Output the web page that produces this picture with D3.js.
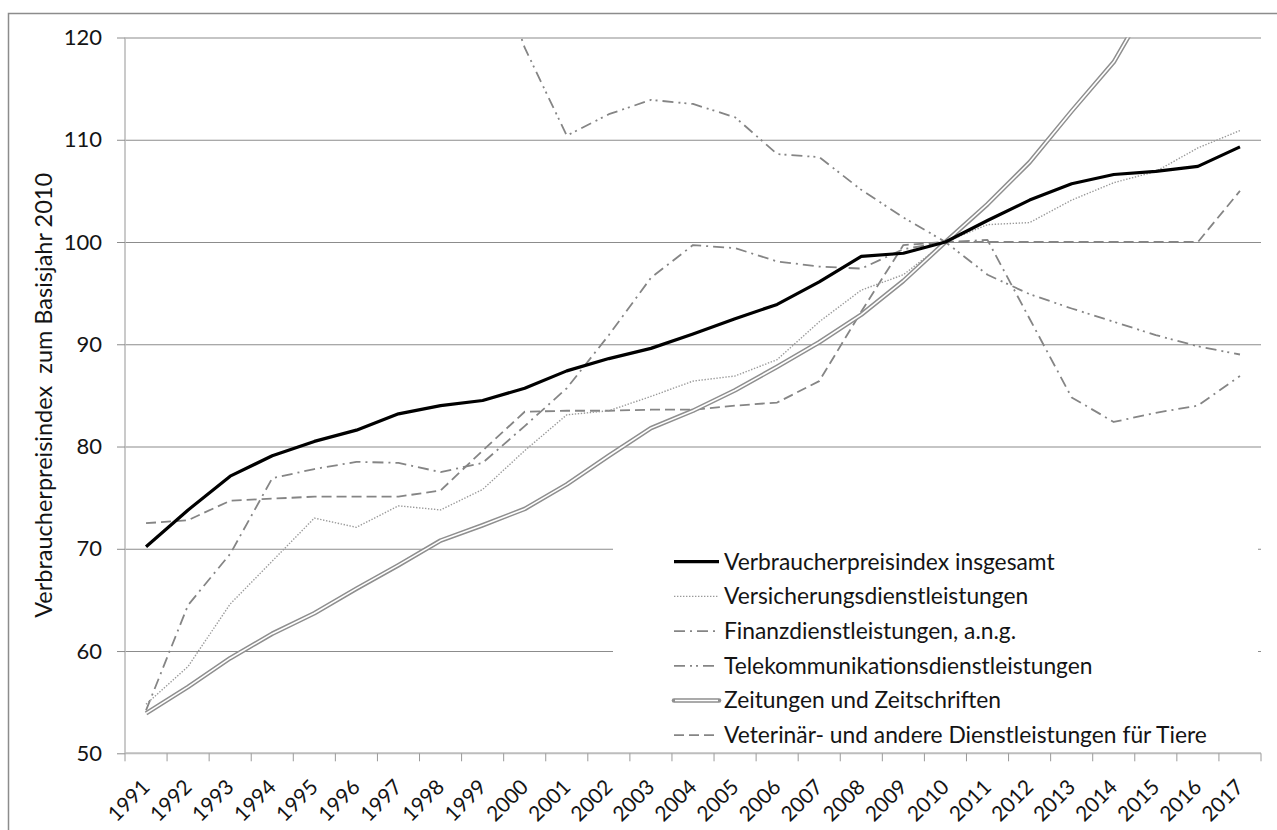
<!DOCTYPE html>
<html>
<head>
<meta charset="utf-8">
<script src="https://cdn.jsdelivr.net/npm/d3@7/dist/d3.min.js"></script>
<style>
  html, body { margin: 0; padding: 0; background: #fff; }
  svg { display: block; font-family: "Lato", "Open Sans", sans-serif; }
</style>
</head>
<body>
<svg id="chart" width="1277" height="830"></svg>
<script>
// Jahre (Kategorien der x-Achse)
const years = ["1991","1992","1993","1994","1995","1996","1997","1998","1999","2000",
  "2001","2002","2003","2004","2005","2006","2007","2008","2009","2010",
  "2011","2012","2013","2014","2015","2016","2017"];

// Indexwerte, Basisjahr 2010 = 100
const verbraucherpreisindex = [70.2,73.8,77.1,79.1,80.5,81.6,83.2,84.0,84.5,85.7,
  87.4,88.6,89.6,91.0,92.5,93.9,96.1,98.6,98.9,100.0,
  102.1,104.1,105.7,106.6,106.9,107.4,109.3];
const versicherung = [54.8,58.5,64.6,68.8,73.0,72.1,74.2,73.8,75.8,79.6,
  83.1,83.5,84.9,86.4,86.9,88.5,92.2,95.3,96.8,100.0,
  101.7,101.9,104.1,105.8,106.9,109.2,110.9];
const finanz = [54.2,64.5,69.5,76.9,77.8,78.5,78.4,77.5,78.4,82.0,
  85.7,90.9,96.5,99.7,99.4,98.1,97.6,97.4,99.3,100.0,
  100.2,92.5,84.8,82.4,83.3,84.0,86.9];
const telekom = [174,175,176,176,176,172,170,156,131,119.0,
  110.4,112.5,113.9,113.5,112.2,108.6,108.3,105.1,102.4,100.0,
  96.8,94.9,93.5,92.2,90.9,89.8,89.0];
const zeitungen = [53.9,56.5,59.3,61.7,63.7,66.1,68.4,70.8,72.3,73.9,
  76.3,79.1,81.8,83.5,85.5,87.8,90.2,92.9,96.2,100.0,
  103.7,107.8,112.8,117.6,124.7,131.0,137.0];
const veterinaer = [72.5,72.8,74.7,74.9,75.1,75.1,75.1,75.7,79.6,83.4,
  83.5,83.5,83.6,83.6,84.0,84.3,86.4,93.2,99.7,100.0,
  100.0,100.0,100.0,100.0,100.0,100.0,105.0];

// Beschriftungen
const seriesNames = [
  "Verbraucherpreisindex insgesamt",
  "Versicherungsdienstleistungen",
  "Finanzdienstleistungen, a.n.g.",
  "Telekommunikationsdienstleistungen",
  "Zeitungen und Zeitschriften",
  "Veterinär- und andere Dienstleistungen für Tiere"
];
const yTicks = [50,60,70,80,90,100,110,120];
const yTitle = "Verbraucherpreisindex  zum Basisjahr 2010";

// Linienstile je Reihe
const styles = [
  { stroke: "#000", width: 3.2, dash: null },
  { stroke: "#9a9a9a", width: 1.4, dash: "1.4 1.6" },
  { stroke: "#858585", width: 1.8, dash: "11 5 2 5" },
  { stroke: "#858585", width: 1.8, dash: "11 5 2 4 2 5" },
  { stroke: "#8f8f8f", width: 4.6, dash: null, inner: "#fff", innerWidth: 1.6 },
  { stroke: "#858585", width: 1.8, dash: "10 5" }
];
const seriesValues = [verbraucherpreisindex, versicherung, finanz, telekom, zeitungen, veterinaer];
const series = seriesNames.map((name, i) => ({ name, values: seriesValues[i], style: styles[i] }));

const svg = d3.select("#chart");
const pL = 125, pR = 1261, pT = 37.5, pB = 753.3;

const x = d3.scaleBand().domain(years).range([pL, pR]);
const y = d3.scaleLinear().domain([50, 120]).range([pB, pT]);

// Rahmen des Diagrammbereichs
svg.append("rect")
  .attr("x", 8.5).attr("y", 13.5)
  .attr("width", 1300).attr("height", 900)
  .attr("fill", "none").attr("stroke", "#8c8c8c").attr("stroke-width", 1.5);

// Hilfslinien
const grid = svg.append("g").attr("transform", `translate(${pL},0)`)
  .call(d3.axisLeft(y).tickValues(yTicks.filter(v => v > 50)).tickSize(-(pR - pL)).tickFormat(""));
grid.select(".domain").remove();
grid.selectAll("line").attr("stroke", "#8c8c8c").attr("stroke-width", 1.1);

// y-Achse
const yAxis = svg.append("g").attr("transform", `translate(${pL},0)`)
  .call(d3.axisLeft(y).tickValues(yTicks).tickSize(8).tickPadding(15));
yAxis.select(".domain").attr("stroke", "#bdbdbd").attr("stroke-width", 1.6).attr("d", `M0,${pT}V${pB}`);
yAxis.selectAll(".tick line").attr("stroke", "#8c8c8c");
yAxis.selectAll(".tick text")
  .attr("font-size", 22).attr("fill", "#141414").attr("font-family", "Lato");

// y-Achsentitel
svg.append("text")
  .attr("transform", `translate(52,${(pT + pB) / 2}) rotate(-90)`)
  .attr("text-anchor", "middle")
  .style("white-space", "pre")
  .attr("font-size", 23.5).attr("fill", "#141414")
  .text(yTitle);

// Linien, auf den Plotbereich beschnitten
svg.append("clipPath").attr("id", "plotclip")
  .append("rect").attr("x", pL).attr("y", pT).attr("width", pR - pL).attr("height", pB - pT);

const line = d3.line()
  .x((d, i) => x(years[i]) + x.bandwidth() / 2)
  .y(d => y(d));

// Legendenhintergrund (deckt Hilfslinien ab)
const legX = 674, legY0 = 561.7, legStep = 34.7;
svg.append("rect")
  .attr("x", 613).attr("y", 537).attr("width", 645).attr("height", 213)
  .attr("fill", "#fff");

// x-Achse
svg.append("line")
  .attr("x1", pL).attr("x2", pR).attr("y1", pB).attr("y2", pB)
  .attr("stroke", "#bdbdbd").attr("stroke-width", 2);
const tickXs = years.map(yr => x(yr)).concat([pR]);
svg.append("g").selectAll("line").data(tickXs).join("line")
  .attr("x1", d => d).attr("x2", d => d)
  .attr("y1", pB).attr("y2", pB + 8)
  .attr("stroke", "#9a9a9a").attr("stroke-width", 1);
svg.append("g").selectAll("text").data(years).join("text")
  .attr("transform", d => `translate(${x(d) + x.bandwidth() / 2 + 5},${pB + 35}) rotate(-45)`)
  .attr("text-anchor", "end")
  .attr("font-size", 21).attr("fill", "#141414")
  .text(d => d);

const plot = svg.append("g").attr("clip-path", "url(#plotclip)");
// Reihenfolge: Hintergrundreihen zuerst, Gesamtindex zuletzt
const drawOrder = [5, 3, 2, 1, 4, 0];
drawOrder.forEach(i => {
  const s = series[i];
  plot.append("path")
    .datum(s.values)
    .attr("d", line)
    .attr("fill", "none")
    .attr("stroke", s.style.stroke)
    .attr("stroke-width", s.style.width)
    .attr("stroke-dasharray", s.style.dash)
    .attr("stroke-linejoin", "round");
  if (s.style.inner) {
    plot.append("path")
      .datum(s.values)
      .attr("d", line)
      .attr("fill", "none")
      .attr("stroke", s.style.inner)
      .attr("stroke-width", s.style.innerWidth)
      .attr("stroke-linejoin", "round");
  }
});

// Legende
const leg = svg.append("g");
series.forEach((s, i) => {
  const cy = legY0 + i * legStep;
  leg.append("line")
    .attr("x1", legX).attr("x2", legX + 45).attr("y1", cy).attr("y2", cy)
    .attr("stroke", s.style.stroke)
    .attr("stroke-width", s.style.width)
    .attr("stroke-dasharray", s.style.dash)
    .attr("stroke-linecap", s.style.inner ? "round" : null);
  if (s.style.inner) {
    leg.append("line")
      .attr("x1", legX + 1).attr("x2", legX + 44).attr("y1", cy).attr("y2", cy)
      .attr("stroke", s.style.inner).attr("stroke-width", s.style.innerWidth);
  }
  leg.append("text")
    .attr("x", legX + 50).attr("y", cy)
    .attr("dy", "0.35em")
    .attr("font-size", 22.8).attr("fill", "#141414")
    .text(s.name);
});
</script>
</body>
</html>
